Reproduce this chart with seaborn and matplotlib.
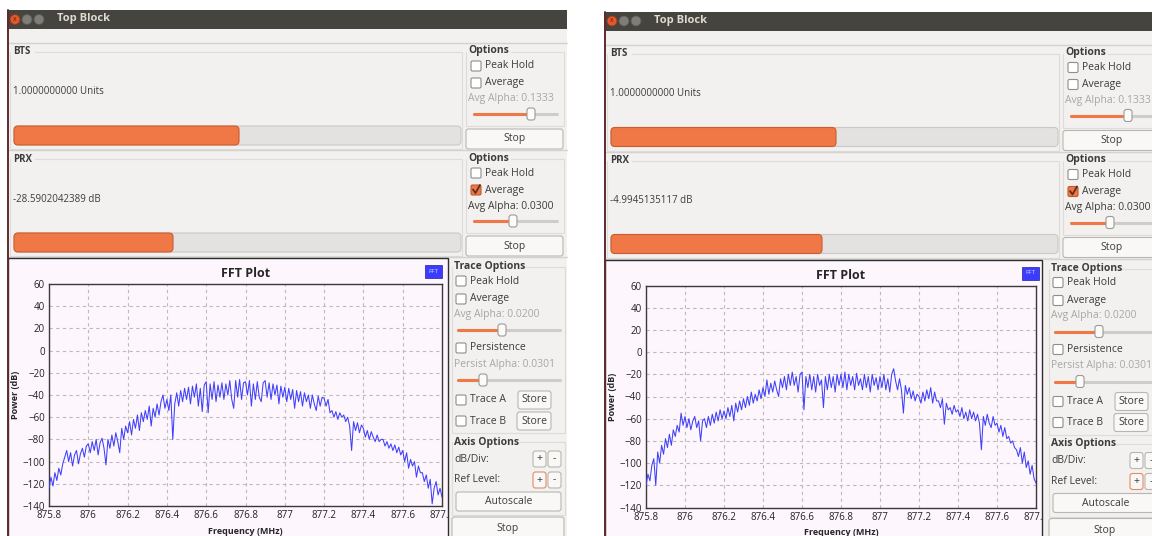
import numpy as np
import matplotlib
matplotlib.use("Agg")
import matplotlib.pyplot as plt
from matplotlib.patches import FancyBboxPatch, Rectangle, Circle
from matplotlib.transforms import Bbox, TransformedBbox
import seaborn as sns

sns.set_style("white")
plt.rcParams['font.family'] = ['Open Sans', 'DejaVu Sans']

# FFT bins: 875.8 .. 877.8 MHz, 0.01 MHz apart
FREQ_START, FREQ_STOP, N_BINS = 875.8, 877.8, 201
freq = np.linspace(FREQ_START, FREQ_STOP, N_BINS)

# left capture (PRX ~ -28.6 dB)
power_left = [
    -124, -114, -122, -110, -117, -106, -112, -102, -96, -90,
    -100, -92, -104, -94, -90, -102, -93, -88, -96, -86,
    -84, -92, -82, -90, -80, -94, -83, -79, -88, -103,
    -80, -88, -76, -86, -74, -82, -92, -70, -80, -68,
    -74, -64, -76, -62, -70, -58, -72, -56, -64, -54,
    -62, -50, -68, -52, -60, -48, -58, -46, -40, -52,
    -44, -54, -40, -80, -48, -38, -50, -36, -46, -34,
    -44, -33, -48, -32, -42, -30, -50, -34, -55, -31,
    -28, -56, -30, -44, -28, -46, -31, -42, -29, -44,
    -30, -40, -27, -44, -52, -27, -42, -26, -44, -29,
    -28, -40, -27, -50, -30, -44, -28, -42, -46, -29,
    -27, -42, -29, -44, -30, -40, -31, -48, -32, -42,
    -33, -46, -34, -44, -35, -52, -36, -46, -37, -50,
    -38, -46, -40, -52, -40, -48, -54, -41, -50, -42,
    -43, -50, -44, -56, -54, -60, -55, -62, -56, -60,
    -58, -64, -60, -68, -90, -64, -72, -65, -74, -67,
    -70, -78, -72, -80, -73, -78, -82, -76, -82, -80,
    -80, -86, -82, -88, -84, -90, -85, -92, -87, -94,
    -90, -100, -92, -106, -98, -104, -100, -114, -104, -110,
    -110, -118, -112, -124, -116, -138, -124, -118, -130, -124, -132,
]

# right capture (PRX ~ -5.0 dB)
power_right = [
    -120, -110, -116, -102, -96, -120, -90, -100, -84, -92,
    -78, -86, -74, -84, -70, -76, -66, -72, -55, -66,
    -58, -68, -60, -70, -62, -58, -68, -62, -80, -62,
    -60, -68, -58, -66, -56, -64, -54, -62, -52, -60,
    -53, -60, -50, -58, -48, -62, -46, -54, -44, -52,
    -42, -50, -40, -48, -36, -46, -38, -44, -34, -42,
    -32, -40, -25, -38, -28, -36, -26, -34, -40, -24,
    -32, -22, -34, -20, -30, -18, -30, -22, -36, -20,
    -18, -52, -22, -32, -20, -34, -22, -36, -20, -30,
    -25, -50, -22, -34, -20, -32, -22, -36, -20, -30,
    -20, -32, -18, -34, -20, -30, -22, -34, -19, -30,
    -24, -34, -20, -32, -22, -36, -20, -30, -23, -34,
    -22, -32, -20, -34, -24, -36, -20, -15, -26, -34,
    -24, -34, -55, -30, -38, -32, -42, -35, -44, -38,
    -40, -46, -36, -44, -34, -42, -32, -46, -36, -44,
    -44, -50, -42, -65, -46, -52, -50, -56, -48, -54,
    -52, -58, -50, -60, -54, -62, -52, -60, -54, -62,
    -56, -64, -88, -58, -66, -56, -64, -68, -58, -66,
    -64, -72, -66, -76, -68, -78, -76, -82, -80, -86,
    -88, -94, -86, -100, -90, -104, -98, -110, -102, -114, -118,
]

bts_text = "1.0000000000 Units"
prx_text_left = "-28.5902042389 dB"
prx_text_right = "-4.9945135117 dB"

x_ticks = [875.8, 876.0, 876.2, 876.4, 876.6, 876.8, 877.0, 877.2, 877.4, 877.6, 877.8]
x_tick_labels = ["875.8", "876", "876.2", "876.4", "876.6", "876.8", "877", "877.2", "877.4", "877.6", "877.8"]
y_ticks = [60, 40, 20, 0, -20, -40, -60, -80, -100, -120, -140]

W, H = 1152, 536
TXT = "#3c3c3c"
GRAY_TXT = "#a9a7a3"
ORANGE = "#f07846"
WIN_BG = "#f2f1f0"
PLOT_BG = "#fdf7fd"

fig = plt.figure(figsize=(W / 100, H / 100), dpi=100)
fig.patch.set_facecolor("white")
bg = fig.add_axes([0, 0, 1, 1])
bg.set_xlim(0, W)
bg.set_ylim(H, 0)
bg.axis("off")


def rbox(x, y, w, h, fc, ec, r=3, lw=0.8, z=2):
    bg.add_patch(FancyBboxPatch((x, y), w, h, boxstyle=f"round,pad=0,rounding_size={r}",
                                fc=fc, ec=ec, lw=lw, zorder=z))


def label(x, y, s, size=7.5, bold=False, color=TXT, ha="left"):
    bg.text(x, y, s, fontsize=size, fontweight="bold" if bold else "normal",
            color=color, ha=ha, va="center", zorder=6)


def checkbox(x, y, s, checked=False):
    if checked:
        rbox(x, y - 5, 10, 10, ORANGE, "#c2582c", r=1.5)
        bg.plot([x + 2, x + 4.5, x + 9], [y - 0.5, y + 3, y - 5], color="#5a3020", lw=1.3, zorder=5)
    else:
        rbox(x, y - 5, 10, 10, "white", "#8f8d89", r=1.5)
    label(x + 14, y, s)


def slider(x0, x1, y, knob):
    bg.plot([x0, x1], [y, y], color="#cfcdc9", lw=2.2, solid_capstyle="round", zorder=3)
    bg.plot([x0, knob], [y, y], color=ORANGE, lw=2.2, solid_capstyle="round", zorder=4)
    rbox(knob - 4, y - 6, 8, 12, "#fbfbfa", "#9c9a96", r=2.5, z=5)


def button(x, y, w, h, s, ec="#b8b6b2"):
    rbox(x, y, w, h, "#f9f8f7", ec, r=2.5)
    label(x + w / 2, y + h / 2, s, ha="center")


def frame(x, y, w, h):
    bg.add_patch(Rectangle((x, y), w, h, fc="none", ec="#dedcd8", lw=0.8, zorder=2))


def window(ox, oy, prx_text, prx_fill, power, axes_w, panel_w):
    # window body and title bar
    bg.add_patch(Rectangle((ox + 7, oy + 10), 560, H, fc=WIN_BG, ec="none", zorder=1))
    bg.add_patch(Rectangle((ox + 7, oy + 10), 560, 19, fc="#45443f", ec="none", zorder=2))
    bg.plot([ox + 7.5, ox + 7.5], [oy + 10, H], color="#5e2b2b", lw=1.4, zorder=7)
    bg.add_patch(Circle((ox + 15, oy + 19.5), 5, fc="#e4582b", ec="#8a3a1e", lw=0.6, zorder=3))
    bg.text(ox + 15, oy + 19.5, "x", fontsize=5, color="#5a2412", ha="center", va="center", zorder=4)
    for cx in (27, 39):
        bg.add_patch(Circle((ox + cx, oy + 19.5), 5, fc="#7f7d78", ec="#5a5955", lw=0.6, zorder=3))
    label(ox + 57, oy + 19, "Top Block", size=8, bold=True, color="#dfdbd2")
    bg.plot([ox + 8, ox + 567], [oy + 43, oy + 43], color="#d4d2ce", lw=1, zorder=2)

    # BTS / PRX number sinks
    for top, name, value, fill, checked, alpha, knob in (
            (0, "BTS", bts_text, 239, False, "Avg Alpha: 0.1333", 531),
            (107, "PRX", prx_text, prx_fill, True, "Avg Alpha: 0.0300", 513)):
        y0 = oy + top
        frame(ox + 10, y0 + 52, 452, 97)
        bg.add_patch(Rectangle((ox + 11, y0 + 46), 24, 10, fc=WIN_BG, ec="none", zorder=3))
        label(ox + 13, y0 + 52, name, size=7, bold=True)
        label(ox + 13, y0 + 92, value, size=7)
        rbox(ox + 14, y0 + 126, 447, 19, "#e3e2e0", "#cbc9c5", r=4)
        rbox(ox + 14, y0 + 126, fill - 14, 19, ORANGE, "#cc5c2e", r=4, z=3)
        frame(ox + 466, y0 + 52, 98, 74)
        bg.add_patch(Rectangle((ox + 467, y0 + 46), 44, 10, fc=WIN_BG, ec="none", zorder=3))
        label(ox + 468, y0 + 51, "Options", bold=True)
        checkbox(ox + 471, y0 + 66, "Peak Hold")
        checkbox(ox + 471, y0 + 83, "Average", checked=checked)
        label(ox + 468, y0 + 99, alpha, color=TXT if checked else GRAY_TXT)
        slider(ox + 474, ox + 557, y0 + 114, knob + ox)
        button(ox + 466, y0 + 129, 97, 20, "Stop")
        bg.plot([ox + 8, ox + 567], [y0 + 150, y0 + 150], color="#d4d2ce", lw=1, zorder=2)

    # FFT panel
    bg.add_patch(Rectangle((ox + 8, oy + 258), panel_w, H, fc=PLOT_BG, ec="#2e2e2e", lw=1, zorder=2))
    bg.add_patch(Rectangle((ox + 425, oy + 265), 17, 13, fc="#3c3cff", ec="#2020a0", lw=0.5, zorder=3))
    bg.text(ox + 433.5, oy + 271.5, "FFT", fontsize=4.5, color="#d8d8ff", ha="center", va="center", zorder=4)

    ax = fig.add_axes([(ox + 49) / W, 1 - (oy + 506) / H, axes_w / W, 222 / H])
    ax.set_facecolor(PLOT_BG)
    sns.lineplot(x=freq, y=power, ax=ax, color="#4040fa", linewidth=0.75, zorder=3)
    ax.set_xlim(FREQ_START, FREQ_STOP)
    ax.set_ylim(-140, 60)
    ax.set_xticks(x_ticks)
    ax.set_xticklabels(x_tick_labels)
    ax.set_yticks(y_ticks)
    ax.grid(True, color="#bdbabd", linestyle=(0, (3, 3)), linewidth=0.8)
    ax.tick_params(length=0, labelsize=7, pad=3, colors="#222222")
    for sp in ax.spines.values():
        sp.set_visible(True)
        sp.set_color("#3a3a3a")
        sp.set_linewidth(1)
    ax.set_title("FFT Plot", fontsize=9, fontweight="bold", pad=5)
    ax.set_xlabel("Frequency (MHz)", fontsize=6.5, fontweight="bold", labelpad=4)
    ax.set_ylabel("Power (dB)", fontsize=6.5, fontweight="bold", labelpad=2)
    clip = TransformedBbox(Bbox([[(ox + 8) / W, 0], [(ox + 8 + panel_w) / W, 1]]), fig.transFigure)
    for lab in ax.get_xticklabels():
        lab.set_clip_on(True)
        lab.set_clip_box(clip)

    # trace / axis options column
    frame(ox + 452, oy + 267, 113, 166)
    bg.add_patch(Rectangle((ox + 453, oy + 261), 70, 11, fc=WIN_BG, ec="none", zorder=3))
    label(ox + 454, oy + 267, "Trace Options", bold=True)
    checkbox(ox + 456, oy + 281, "Peak Hold")
    checkbox(ox + 456, oy + 299, "Average")
    label(ox + 454, oy + 314, "Avg Alpha: 0.0200", color=GRAY_TXT)
    slider(ox + 458, ox + 560, oy + 330, ox + 502)
    checkbox(ox + 456, oy + 348, "Persistence")
    label(ox + 454, oy + 364, "Persist Alpha: 0.0301", color=GRAY_TXT)
    slider(ox + 458, ox + 560, oy + 380, ox + 483)
    checkbox(ox + 456, oy + 400, "Trace A")
    button(ox + 518, oy + 391, 33, 18, "Store")
    checkbox(ox + 456, oy + 421, "Trace B")
    button(ox + 517, oy + 412, 34, 18, "Store")
    frame(ox + 452, oy + 442, 113, 73)
    bg.add_patch(Rectangle((ox + 453, oy + 436), 64, 11, fc=WIN_BG, ec="none", zorder=3))
    label(ox + 454, oy + 442, "Axis Options", bold=True)
    label(ox + 454, oy + 459, "dB/Div:")
    button(ox + 533, oy + 451, 13, 16, "+")
    button(ox + 548, oy + 451, 13, 16, "-")
    label(ox + 454, oy + 480, "Ref Level:")
    button(ox + 533, oy + 472, 13, 16, "+", ec="#e88a60")
    button(ox + 548, oy + 472, 13, 16, "-")
    button(ox + 456, oy + 492, 105, 19, "Autoscale")
    button(ox + 452, oy + 517, 112, 24, "Stop")


window(0, 0, prx_text_left, 173, power_left, 393, 440)
window(597, 1.5, prx_text_right, 822 - 597, power_right, 390, 437)

fig.savefig("out.png", dpi=100, facecolor="white")
